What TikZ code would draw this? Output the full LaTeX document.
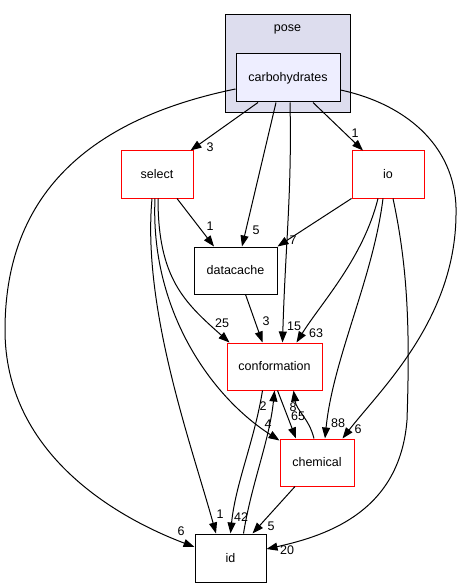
\documentclass[tikz,border=0pt]{standalone}
\usepackage{fontspec}
\setmainfont{Liberation Sans}
\usetikzlibrary{arrows.meta}
\definecolor{clusterbg}{HTML}{DDDDEE}
\definecolor{dirbg}{HTML}{EEEEFF}

\begin{document}
\begin{tikzpicture}[x=1pt,y=-1pt,
    txt/.style={font=\fontsize{12.5}{14}\selectfont},
    dirbox/.style={txt,draw=black,line width=1pt,minimum height=47pt,inner sep=0pt},
    redbox/.style={dirbox,draw=red},
    dep/.style={line width=1pt,-{Triangle[length=11pt,width=8pt]}},
    lbl/.style={txt,inner sep=0pt}]
  \useasboundingbox (0,0) rectangle (460,588);

  % Cluster pose with carbohydrates inside
  \node[draw=black,line width=1pt,fill=clusterbg,minimum width=125pt,minimum height=98pt] (pose) at (287.5,64) {};
  \node[lbl] (posetitle) at (287.5,29) {pose};
  \node[dirbox,fill=dirbg,minimum width=104pt,minimum height=48pt] (carbo) at (288,78) {carbohydrates};

  % Directories
  \node[redbox,minimum width=72pt] (select) at (157,174.5) {select};
  \node[redbox,minimum width=72pt] (io) at (388,174.5) {io};
  \node[dirbox,minimum width=83pt] (datacache) at (235.5,270.5) {datacache};
  \node[redbox,minimum width=95pt] (conformation) at (274.5,366.5) {conformation};
  \node[redbox,minimum width=74pt] (chemical) at (317,462.5) {chemical};
  \node[dirbox,minimum width=71pt,minimum height=48pt] (id) at (230.5,558) {id};

  % Edge counts
  \foreach \x/\y/\t [count=\i] in {210/147/3, 256/230/5, 294/326/15, 355/133/1, 181/531/6,
      358/429/6, 210/226/1, 222/323/25, 268/424/4, 220/514/1, 293/240/7, 316/333/63,
      338/423/88, 287/550/20, 266/321/3, 298/416/65, 293/407/8, 241/517/42, 263/406/2, 271/526/5}
    \node[lbl] (n\i) at (\x,\y) {\t};

  % Edges from carbohydrates
  \draw[dep] ([xshift=-30pt]carbo.south) -- ([xshift=-3pt]select.north east);
  \draw[dep] ([xshift=-12pt]carbo.south) -- ([xshift=6.5pt]datacache.north);
  \draw[dep] ([xshift=2pt]carbo.south) .. controls +(2,90) and +(3,-100) .. ([xshift=8pt]conformation.north);
  \draw[dep] ([xshift=25pt]carbo.south) -- ([xshift=-25pt]io.north);
  \draw[dep] ([yshift=-11pt]carbo.west) .. controls (60,125) and (5,220) .. (5,330)
    .. controls (5,450) and (110,515) .. ([yshift=11pt]id.west);
  \draw[dep] ([yshift=-12pt]carbo.east) .. controls (410,105) and (458,150) .. (456,215)
    .. controls (455,320) and (380,390) .. ([xshift=-12pt]chemical.north east);

  % Edges from select
  \draw[dep] ([xshift=20pt]select.south) -- ([xshift=-21.5pt]datacache.north);
  \draw[dep] ([xshift=1pt]select.south) .. controls +(0,80) and +(-45,-40) .. ([xshift=3pt]conformation.north west);
  \draw[dep] ([xshift=-2pt]select.south) .. controls +(-5,110) and +(-70,-45) .. ([yshift=-2pt]chemical.north west);
  \draw[dep] ([xshift=-5pt]select.south) .. controls +(-10,110) and +(-25,-90) .. ([xshift=-14.5pt]id.north);

  % Edges from io
  \draw[dep] (io.south west) -- (datacache.north east);
  \draw[dep] ([xshift=-10pt]io.south) .. controls +(-15,60) and +(25,-40) .. ([xshift=22pt]conformation.north);
  \draw[dep] ([xshift=-5pt]io.south) .. controls +(-10,80) and +(8,-80) .. ([xshift=8pt]chemical.north);
  \draw[dep] ([xshift=5pt]io.south) .. controls +(15,70) and (410,330) .. (407,420)
    .. controls (400,510) and (330,535) .. ([yshift=9pt]id.east);

  % Remaining edges
  \draw[dep] ([xshift=10pt]datacache.south) -- ([xshift=-12pt]conformation.north);
  \draw[dep] ([xshift=3pt]conformation.south) -- ([xshift=-21pt]chemical.north);
  \draw[dep] ([xshift=-3pt]chemical.north) .. controls +(-5,-20) and +(3,20) .. ([xshift=19pt]conformation.south);
  \draw[dep] ([xshift=-12pt]conformation.south) .. controls +(-8,50) and +(5,-50) .. (id.north);
  \draw[dep] ([xshift=13pt]id.north) .. controls +(8,-50) and +(-5,50) .. (conformation.south);
  \draw[dep] ([xshift=-22pt]chemical.south) -- ([xshift=22pt]id.north);
\end{tikzpicture}
\end{document}
